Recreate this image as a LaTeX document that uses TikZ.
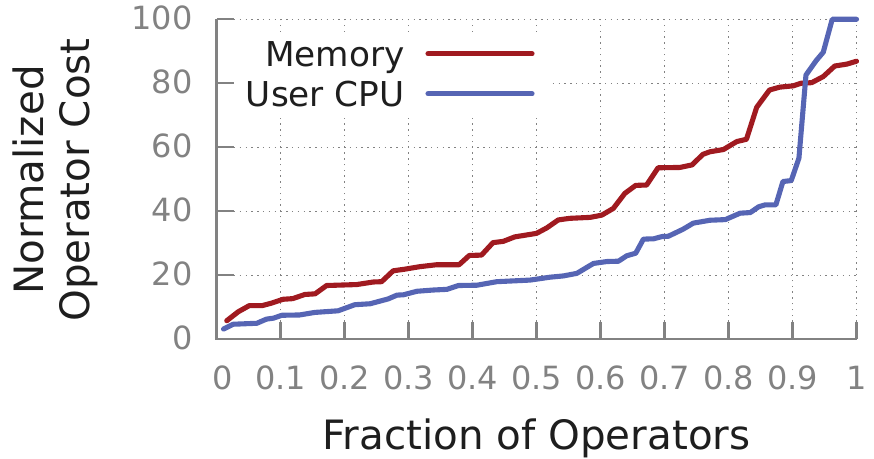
\documentclass[tikz,border=0pt]{standalone}
\usepackage{fontspec}
\setmainfont{DejaVu Sans}
\definecolor{memred}{RGB}{160,26,32}
\definecolor{cpublue}{RGB}{86,101,180}
\definecolor{axisgray}{RGB}{130,130,130}
\definecolor{labelblack}{RGB}{30,30,30}

\begin{document}
\begin{tikzpicture}[x=12.8cm,y=0.064cm]

  \tikzstyle{curve}=[line width=2.9pt,line cap=round,line join=round]
  \tikzstyle{ticklabel}=[text=axisgray,font=\fontsize{18.2}{20}\selectfont,inner sep=0pt]
  \tikzstyle{axislabel}=[text=labelblack,font=\fontsize{23}{27}\selectfont,inner sep=0pt]
  \tikzstyle{legendlabel}=[text=labelblack,font=\fontsize{19.5}{22}\selectfont,inner sep=0pt]

  \useasboundingbox (-0.3383,-37.4) rectangle (1.0273,106.03);

  % grid, then the legend box on top of it
  \draw[axisgray,line width=0.8pt,dash pattern=on 0.8pt off 2.5pt,xstep=0.1,ystep=20] (0,0) grid (1.001,100.01);
  \fill[white] (0,69.4) rectangle (0.5195,95.1);

  % axes
  \draw[axisgray,line width=1.2pt] (0,100) -- (0,0) -- (1,0);
  \foreach \v in {0,20,...,100}
    \draw[axisgray,line width=1.2pt] (0,\v) -- (0.0266,\v);
  \foreach \v in {0.1,0.2,...,1.01}
    \draw[axisgray,line width=1.2pt] (\v,0) -- (\v,5.3);

  \node[ticklabel,anchor=east] (y0) at (-0.0367,0.4) {0};
  \node[ticklabel,anchor=east] (y20) at (-0.0367,20.4) {20};
  \node[ticklabel,anchor=east] (y40) at (-0.0367,40.4) {40};
  \node[ticklabel,anchor=east] (y60) at (-0.0367,60.4) {60};
  \node[ticklabel,anchor=east] (y80) at (-0.0367,80.4) {80};
  \node[ticklabel,anchor=east] (y100) at (-0.0367,100.4) {100};

  \node[ticklabel] (x0) at (0.009,-12.2) {0};
  \node[ticklabel] (x1) at (0.1,-12.2) {0.1};
  \node[ticklabel] (x2) at (0.2,-12.2) {0.2};
  \node[ticklabel] (x3) at (0.3,-12.2) {0.3};
  \node[ticklabel] (x4) at (0.4,-12.2) {0.4};
  \node[ticklabel] (x5) at (0.5,-12.2) {0.5};
  \node[ticklabel] (x6) at (0.6,-12.2) {0.6};
  \node[ticklabel] (x7) at (0.7,-12.2) {0.7};
  \node[ticklabel] (x8) at (0.8,-12.2) {0.8};
  \node[ticklabel] (x9) at (0.9,-12.2) {0.9};
  \node[ticklabel] (x10) at (1.0,-12.2) {1};

  \node[axislabel,anchor=base] (xlabel) at (0.5,-34.6) {Fraction of Operators};
  \node[axislabel,anchor=base,rotate=90] (ylabel1) at (-0.2711,49.8) {Normalized};
  \node[axislabel,anchor=base,rotate=90] (ylabel2) at (-0.1977,49.8) {Operator Cost};

  % the two series
  \draw[curve,memred] plot coordinates {(0.016,5.8) (0.034,8.6) (0.051,10.5) (0.071,10.5) (0.086,11.3) (0.104,12.5) (0.119,12.7) (0.138,14.0) (0.154,14.2) (0.172,16.8) (0.219,17.1) (0.245,17.9) (0.258,18.0) (0.276,21.4) (0.294,21.9) (0.318,22.7) (0.344,23.3) (0.379,23.3) (0.395,26.2) (0.414,26.3) (0.432,30.2) (0.448,30.6) (0.466,32.0) (0.500,33.1) (0.516,34.8) (0.534,37.3) (0.552,37.8) (0.584,38.1) (0.602,38.8) (0.620,40.9) (0.638,45.6) (0.655,48.1) (0.672,48.2) (0.690,53.6) (0.724,53.7) (0.743,54.5) (0.760,57.8) (0.771,58.6) (0.792,59.3) (0.813,61.8) (0.828,62.5) (0.844,72.5) (0.864,77.9) (0.880,78.8) (0.901,79.2) (0.913,80.0) (0.930,80.2) (0.948,82.1) (0.966,85.4) (0.985,86.0) (1.000,86.9)};

  \draw[curve,cpublue] plot coordinates {(0.011,3.2) (0.026,4.7) (0.063,5.0) (0.078,6.3) (0.089,6.6) (0.102,7.5) (0.130,7.6) (0.154,8.4) (0.190,8.9) (0.216,10.8) (0.240,11.1) (0.268,12.6) (0.282,13.8) (0.292,13.9) (0.313,15.0) (0.339,15.4) (0.360,15.6) (0.378,16.8) (0.407,16.9) (0.438,18.0) (0.490,18.5) (0.521,19.4) (0.542,19.8) (0.563,20.6) (0.589,23.7) (0.610,24.3) (0.628,24.4) (0.641,26.1) (0.655,26.9) (0.667,31.3) (0.683,31.4) (0.696,32.1) (0.706,32.2) (0.729,34.4) (0.745,36.3) (0.771,37.2) (0.795,37.4) (0.818,39.4) (0.834,39.6) (0.847,41.4) (0.857,42.0) (0.874,42.0) (0.885,49.3) (0.898,49.6) (0.910,56.6) (0.921,82.6) (0.937,87.1) (0.948,89.7) (0.962,100) (1.000,100)};

  % legend
  \node[legendlabel,anchor=base east] (mem) at (0.2945,85.2) {Memory};
  \node[legendlabel,anchor=base east] (cpu) at (0.2945,72.7) {User CPU};
  \coordinate (mem a) at (0.3305,89.2);
  \coordinate (mem b) at (0.4930,89.2);
  \coordinate (cpu a) at (0.3305,76.7);
  \coordinate (cpu b) at (0.4930,76.7);
  \draw[curve,memred] (mem a) -- (mem b);
  \draw[curve,cpublue] (cpu a) -- (cpu b);

  %\draw[step=1cm,gray,very thin] (-0.3,-30) grid (1,100);

\end{tikzpicture}
\end{document}
